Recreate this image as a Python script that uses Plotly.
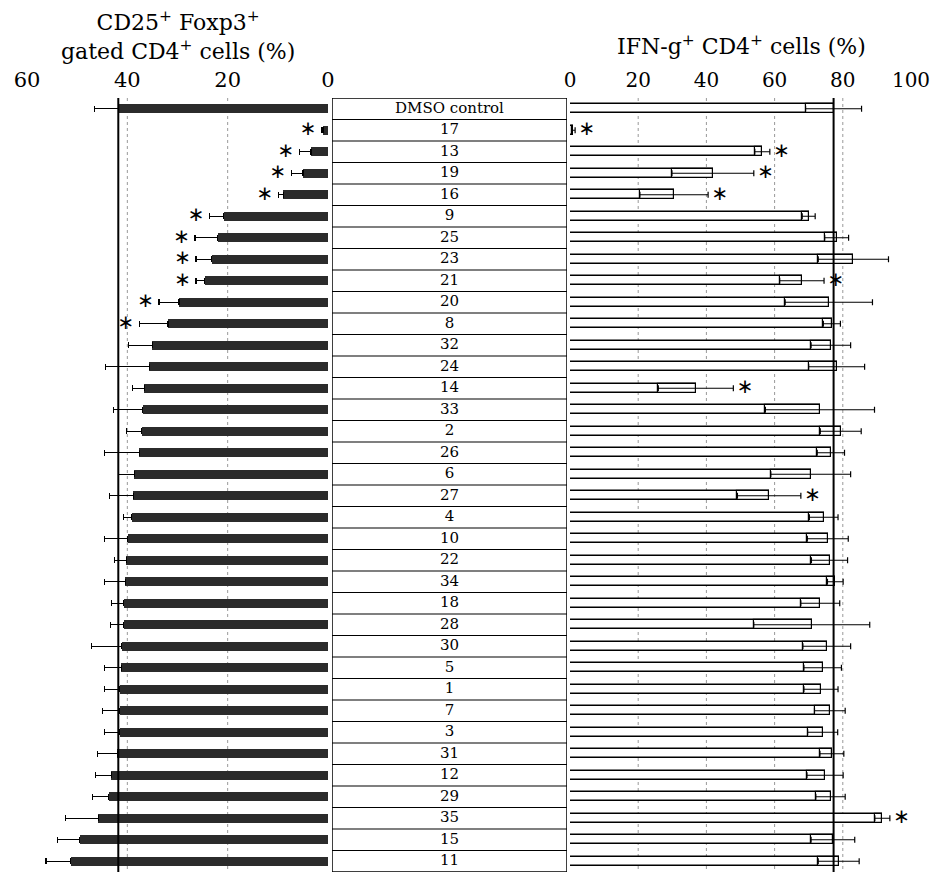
import plotly.graph_objects as go

# ---------------- data ----------------
compounds = ["DMSO control", "17", "13", "19", "16", "9", "25", "23", "21", "20", "8",
             "32", "24", "14", "33", "2", "26", "6", "27", "4", "10", "22", "34", "18",
             "28", "30", "5", "1", "7", "3", "31", "12", "29", "35", "15", "11"]

foxp3_mean = [41.8, 1.0, 3.4, 5.0, 8.9, 20.8, 22.0, 23.2, 24.6, 29.7, 31.9,
              35.0, 35.6, 36.6, 36.9, 37.1, 37.6, 38.6, 38.8, 39.1, 39.9, 40.2, 40.4, 40.7,
              40.7, 41.1, 41.2, 41.5, 41.5, 41.5, 42.0, 43.2, 43.7, 45.8, 49.5, 51.3]
foxp3_err = [4.7, 0.3, 2.3, 2.3, 1.0, 2.8, 4.5, 3.1, 1.7, 4.0, 5.7,
             4.8, 8.8, 2.4, 5.9, 3.1, 7.0, 3.2, 4.8, 1.6, 4.6, 2.3, 4.2, 2.5,
             2.6, 6.0, 3.3, 3.0, 3.4, 3.0, 4.0, 3.1, 3.2, 6.6, 4.4, 4.9]
foxp3_sig = [False, True, True, True, True, True, True, True, True, True, True] + [False] * 25

ifng_mean = [77.3, 1.0, 56.4, 41.9, 30.5, 70.0, 78.2, 83.1, 68.0, 75.9, 76.8,
             76.5, 78.2, 36.9, 73.3, 79.4, 76.5, 70.6, 58.4, 74.4, 75.6, 76.1, 77.8, 73.4,
             70.9, 75.3, 74.1, 73.6, 76.2, 74.1, 76.8, 74.8, 76.4, 91.6, 77.1, 78.8]
ifng_err = [8.2, 0.5, 2.2, 12.0, 10.0, 1.9, 3.5, 10.3, 6.5, 12.8, 2.5,
            5.8, 8.2, 11.0, 16.0, 6.0, 4.0, 11.7, 9.3, 4.2, 6.0, 5.3, 2.3, 5.7,
            17.0, 7.0, 5.5, 5.0, 4.5, 4.4, 3.5, 5.3, 4.3, 2.2, 6.4, 6.0]
ifng_sig = [False, True, True, True, True, False, False, False, True, False, False,
            False, False, True, False, False, False, False, True, False, False, False, False, False,
            False, False, False, False, False, False, False, False, False, True, False, False]

left_ticks = [60, 40, 20, 0]
right_ticks = [0, 20, 40, 60, 80, 100]
left_grid = [20, 40]
right_grid = [20, 40, 60, 80]

# ---------------- figure ----------------
n = len(compounds)
rows = list(range(n))
OFF = 8                        # page body margin of the html page
W, H = 939 - OFF, 876 - OFF    # figure size
SERIF = "DejaVu Serif"
STAR_GAP = 1.0  # gap (axis units) between whisker end and asterisk


def px(x):
    return (x - OFF) / W


def py(y):
    return 1 - (y - OFF) / H


fig = go.Figure()

# Left: CD25+ Foxp3+ bars (dark), error only away from zero
fig.add_trace(go.Bar(
    x=foxp3_mean, y=rows, orientation="h", xaxis="x", yaxis="y", width=0.42,
    marker=dict(color="#2b2b2b", line=dict(width=0)),
    error_x=dict(type="data", symmetric=False, array=foxp3_err, arrayminus=[0] * n,
                 color="black", thickness=1.2, width=3),
    showlegend=False, hoverinfo="skip"))

# Right: IFN-g+ bars (white, outlined)
fig.add_trace(go.Bar(
    x=ifng_mean, y=rows, orientation="h", xaxis="x2", yaxis="y", width=0.42,
    marker=dict(color="white", line=dict(color="black", width=1.5)),
    showlegend=False, hoverinfo="skip"))
# lower error part drawn as a box inside the bar
fig.add_trace(go.Bar(
    x=ifng_err, base=[m - e for m, e in zip(ifng_mean, ifng_err)], y=rows,
    orientation="h", xaxis="x2", yaxis="y", width=0.42,
    marker=dict(color="white", line=dict(color="black", width=1.2)),
    showlegend=False, hoverinfo="skip"))
# symmetric error bars on top
fig.add_trace(go.Scatter(
    x=ifng_mean, y=rows, xaxis="x2", yaxis="y", mode="markers",
    marker=dict(size=1, opacity=0),
    error_x=dict(type="data", array=ifng_err, color="black", thickness=1.2, width=3),
    showlegend=False, hoverinfo="skip"))

# asterisks
lx = [m + e + STAR_GAP for m, e, s in zip(foxp3_mean, foxp3_err, foxp3_sig) if s]
ly = [i for i, s in zip(rows, foxp3_sig) if s]
fig.add_trace(go.Scatter(
    x=lx, y=ly, xaxis="x", yaxis="y", mode="text", text=["\u2217"] * len(lx),
    textposition="middle left", textfont=dict(family="DejaVu Sans", size=20, color="black"),
    showlegend=False, hoverinfo="skip", cliponaxis=False))
rx = [m + e + STAR_GAP for m, e, s in zip(ifng_mean, ifng_err, ifng_sig) if s]
ry = [i for i, s in zip(rows, ifng_sig) if s]
fig.add_trace(go.Scatter(
    x=rx, y=ry, xaxis="x2", yaxis="y", mode="text", text=["\u2217"] * len(rx),
    textposition="middle right", textfont=dict(family="DejaVu Sans", size=20, color="black"),
    showlegend=False, hoverinfo="skip", cliponaxis=False))

# central table labels
fig.add_trace(go.Scatter(
    x=[0.5] * n, y=rows, xaxis="x3", yaxis="y", mode="text", text=compounds,
    textposition="middle center", textfont=dict(family=SERIF, size=15, color="black"),
    showlegend=False, hoverinfo="skip", cliponaxis=False))

shapes = []
# table border and row lines
shapes.append(dict(type="rect", xref="x3", yref="y", x0=0, x1=1, y0=-0.5, y1=n - 0.5,
                   line=dict(color="black", width=1.5), layer="above"))
for i in range(n - 1):
    shapes.append(dict(type="line", xref="x3", yref="y", x0=0, x1=1, y0=i + 0.5, y1=i + 0.5,
                       line=dict(color="black", width=1.2), layer="above"))
# dotted grid
for g in left_grid:
    shapes.append(dict(type="line", xref="x", yref="y", x0=g, x1=g, y0=-0.5, y1=n - 0.5,
                       line=dict(color="#999999", width=1, dash="dot"), layer="below"))
for g in right_grid:
    shapes.append(dict(type="line", xref="x2", yref="y", x0=g, x1=g, y0=-0.5, y1=n - 0.5,
                       line=dict(color="#999999", width=1, dash="dot"), layer="below"))
# control reference lines
shapes.append(dict(type="line", xref="x", yref="y", x0=foxp3_mean[0], x1=foxp3_mean[0],
                   y0=-0.65, y1=n - 0.3, line=dict(color="black", width=2), layer="above"))
shapes.append(dict(type="line", xref="x2", yref="y", x0=ifng_mean[0], x1=ifng_mean[0],
                   y0=-0.65, y1=n - 0.3, line=dict(color="black", width=2), layer="above"))

annotations = [
    dict(text="CD25<sup>+</sup> Foxp3<sup>+</sup><br>gated CD4<sup>+</sup> cells (%)",
         xref="paper", yref="paper", x=px(178), y=py(36), showarrow=False,
         xanchor="center", yanchor="middle", font=dict(family=SERIF, size=22, color="black")),
    dict(text="IFN-g<sup>+</sup> CD4<sup>+</sup> cells (%)",
         xref="paper", yref="paper", x=px(741), y=py(45), showarrow=False,
         xanchor="center", yanchor="middle", font=dict(family=SERIF, size=22, color="black")),
]

y_dom = [py(872), py(98)]
tickfont = dict(family=SERIF, size=21, color="black")

fig.update_layout(
    width=W, height=H, margin=dict(l=0, r=0, t=0, b=0, autoexpand=False),
    paper_bgcolor="white", plot_bgcolor="white",
    barmode="overlay", bargap=0,
    shapes=shapes, annotations=annotations,
    xaxis=dict(domain=[px(27), px(328)], range=[60, 0], side="top", anchor="y",
               tickvals=left_ticks, ticks="", showgrid=False, zeroline=False,
               showline=False, tickfont=tickfont, automargin=False, ticklabelstandoff=6,
               ticklabeloverflow="allow"),
    xaxis2=dict(domain=[px(570), px(911)], range=[0, 100], side="top", anchor="y",
                tickvals=right_ticks, ticks="", showgrid=False, zeroline=False,
                showline=False, tickfont=dict(family=SERIF, size=20, color="black"),
                automargin=False, ticklabelstandoff=6, ticklabeloverflow="allow"),
    xaxis3=dict(domain=[px(332), px(567)], range=[0, 1], anchor="y", visible=False,
                automargin=False),
    yaxis=dict(domain=y_dom, range=[n - 0.5, -0.5], showticklabels=False, showgrid=False,
               zeroline=False, showline=False, ticks="", automargin=False),
)

fig.write_html("out.html")
